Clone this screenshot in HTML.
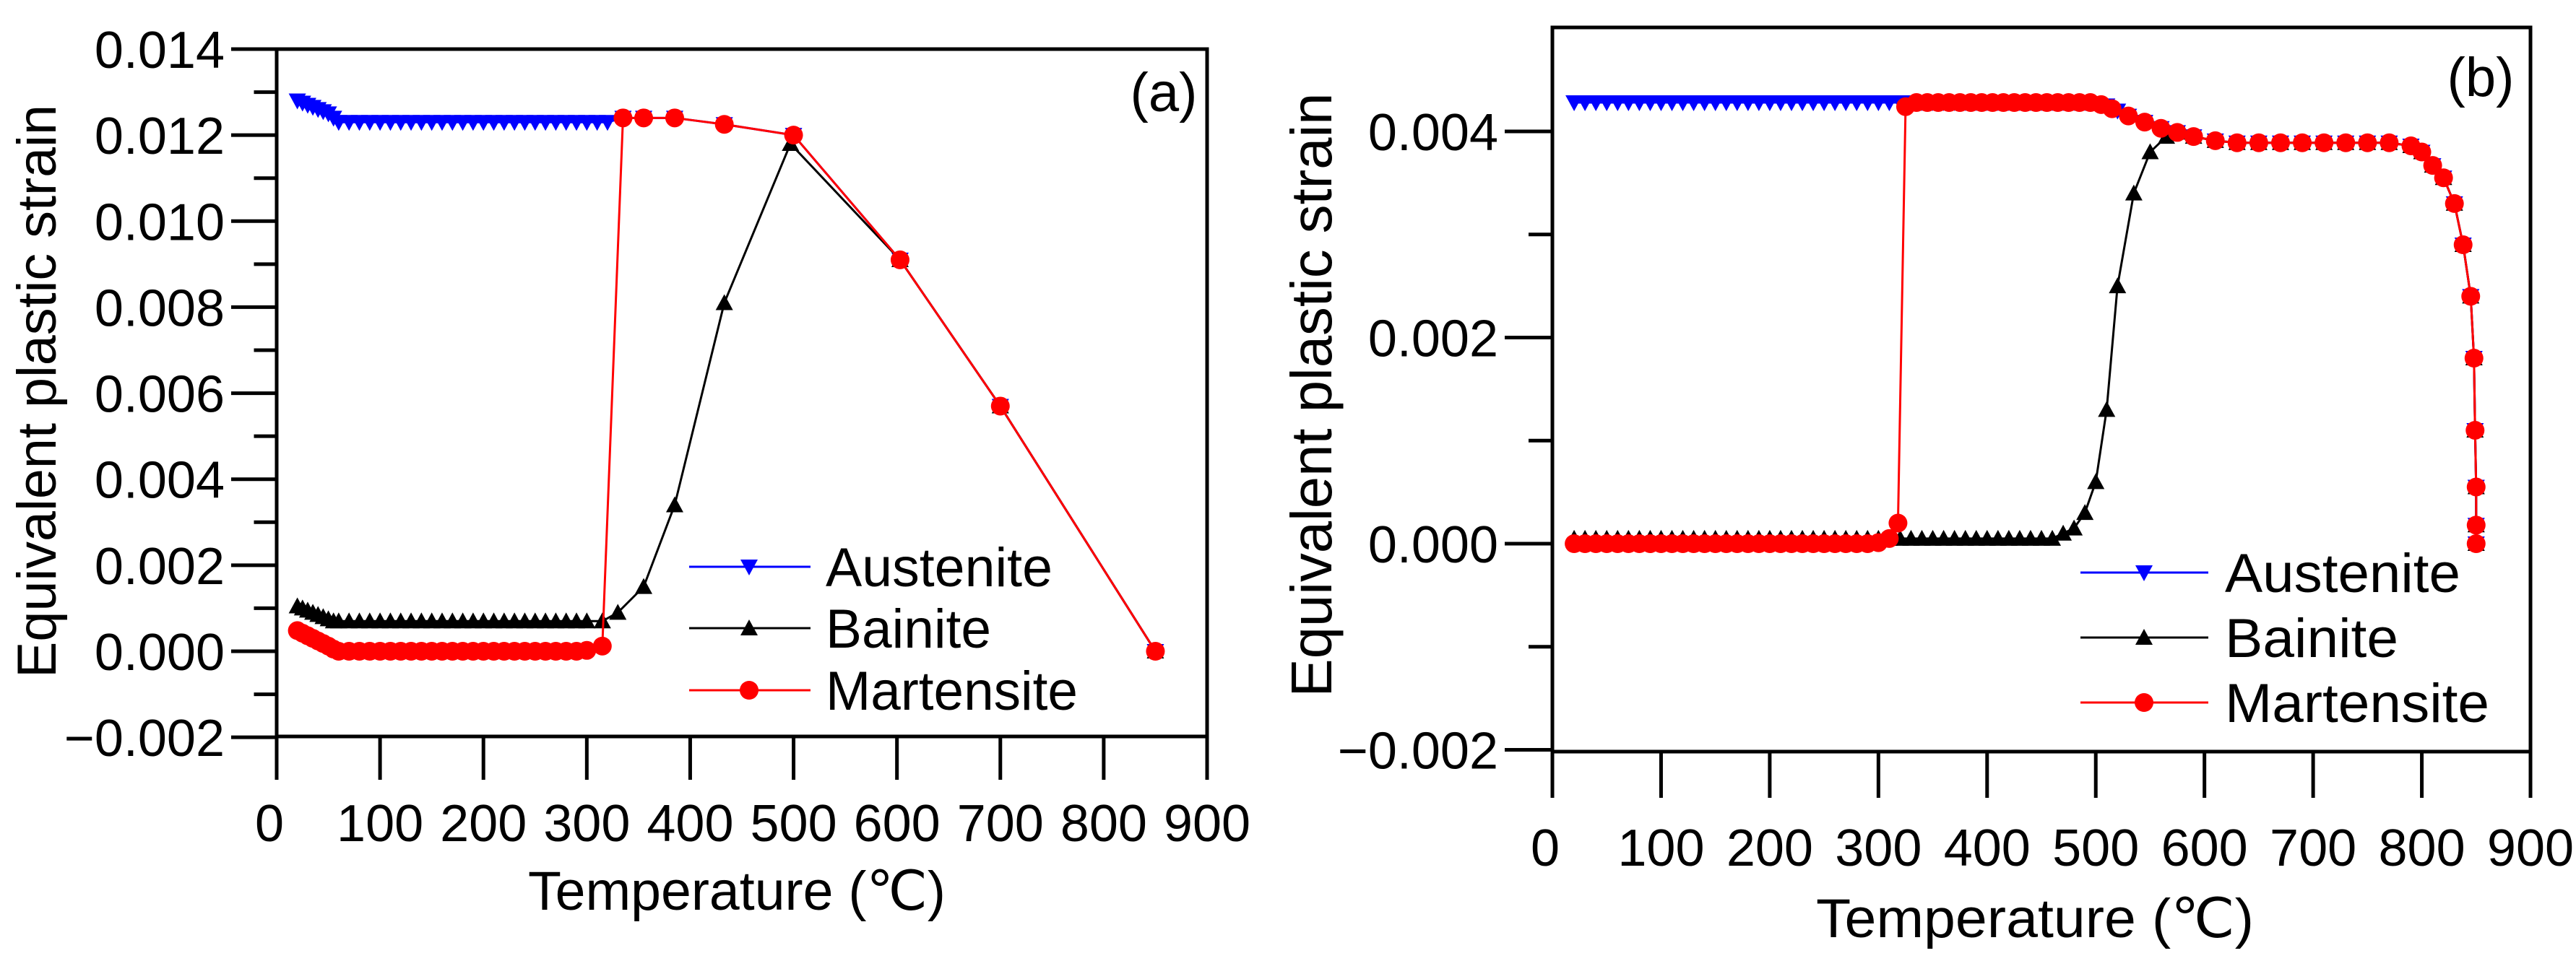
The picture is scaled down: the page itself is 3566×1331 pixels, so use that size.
<!DOCTYPE html>
<html><head><meta charset="utf-8"><style>
html,body{margin:0;padding:0;background:#fff;}
svg{display:block;font-family:"Liberation Sans",sans-serif;}
</style></head><body>
<svg id="chart" width="3566" height="1331" viewBox="0 0 3566 1331" xmlns="http://www.w3.org/2000/svg"></svg>
<script>
// ---- Panel (a) data ----
const aAusT = [20,25,30,35,40,45,50,55,60,70,80,90,100,110,120,130,140,150,160,170,180,190,200,210,220,230,240,250,260,270,280,290,300,310,320,335,355,385,433,500,603,700,850];
const aAusV = [0.0128,0.01275,0.0127,0.01265,0.0126,0.01255,0.0125,0.0124,0.0123,0.0123,0.0123,0.0123,0.0123,0.0123,0.0123,0.0123,0.0123,0.0123,0.0123,0.0123,0.0123,0.0123,0.0123,0.0123,0.0123,0.0123,0.0123,0.0123,0.0123,0.0123,0.0123,0.0123,0.0123,0.0123,0.0123,0.0124,0.0124,0.0124,0.01225,0.0120,0.0091,0.0057,0.0];
const aBaiT = [20,25,30,35,40,45,50,55,60,70,80,90,100,110,120,130,140,150,160,170,180,190,200,210,220,230,240,250,260,270,280,290,300,315,330,355,385,433,497,603,700,850];
const aBaiV = [0.00105,0.001,0.00095,0.0009,0.00085,0.0008,0.00075,0.0007,0.0007,0.0007,0.0007,0.0007,0.0007,0.0007,0.0007,0.0007,0.0007,0.0007,0.0007,0.0007,0.0007,0.0007,0.0007,0.0007,0.0007,0.0007,0.0007,0.0007,0.0007,0.0007,0.0007,0.0007,0.0007,0.0007,0.0009,0.0015,0.0034,0.0081,0.0118,0.0091,0.0057,0.0];
const aMarT = [20,25,30,35,40,45,50,55,60,70,80,90,100,110,120,130,140,150,160,170,180,190,200,210,220,230,240,250,260,270,280,290,300,315,335,355,385,433,500,603,700,850];
const aMarV = [0.00048,0.00042,0.00036,0.0003,0.00024,0.00018,0.00012,0.00005,0.0,0.0,0.0,0.0,0.0,0.0,0.0,0.0,0.0,0.0,0.0,0.0,0.0,0.0,0.0,0.0,0.0,0.0,0.0,0.0,0.0,0.0,0.0,0.0,0.00002,0.00012,0.0124,0.0124,0.0124,0.01225,0.0120,0.0091,0.0057,0.0];
const aYTicks = [-0.002,0.000,0.002,0.004,0.006,0.008,0.010,0.012,0.014];
const aYLabels = ["\u22120.002","0.000","0.002","0.004","0.006","0.008","0.010","0.012","0.014"];
const xTicks = [0,100,200,300,400,500,600,700,800,900];
const xLabels = ["0","100","200","300","400","500","600","700","800","900"];

// ---- Panel (b) data ----
const bAusT = [20,30,40,50,60,70,80,90,100,110,120,130,140,150,160,170,180,190,200,210,220,230,240,250,260,270,280,290,300,310,320,330,340,350,360,370,380,390,400,410,420,430,440,450,460,470,480,490,500,510,520,530,545,560,575,590,610,630,650,670,690,710,730,750,770,790,800,810,820,830,838,845,848,849,850,850,850];
const bAusV = [0.00428,0.00428,0.00428,0.00428,0.00428,0.00428,0.00428,0.00428,0.00428,0.00428,0.00428,0.00428,0.00428,0.00428,0.00428,0.00428,0.00428,0.00428,0.00428,0.00428,0.00428,0.00428,0.00428,0.00428,0.00428,0.00428,0.00428,0.00428,0.00428,0.00428,0.00428,0.00428,0.00428,0.00428,0.00428,0.00428,0.00428,0.00428,0.00428,0.00428,0.00428,0.00428,0.00428,0.00428,0.00428,0.00428,0.00428,0.00428,0.00427,0.00425,0.0042,0.00415,0.00409,0.00403,0.00399,0.00395,0.00391,0.00389,0.00389,0.00389,0.00389,0.00389,0.00389,0.00389,0.00389,0.00386,0.0038,0.00367,0.00355,0.0033,0.0029,0.0024,0.0018,0.0011,0.00055,0.00018,0.0];
const bBaiT = [20,30,40,50,60,70,80,90,100,110,120,130,140,150,160,170,180,190,200,210,220,230,240,250,260,270,280,290,300,310,320,330,340,350,360,370,380,390,400,410,420,430,440,450,460,470,480,490,500,510,520,535,550,565,575,590,610,630,650,670,690,710,730,750,770,790,800,810,820,830,838,845,848,849,850,850,850];
const bBaiV = [0.00005,0.00005,0.00005,0.00005,0.00005,0.00005,0.00005,0.00005,0.00005,0.00005,0.00005,0.00005,0.00005,0.00005,0.00005,0.00005,0.00005,0.00005,0.00005,0.00005,0.00005,0.00005,0.00005,0.00005,0.00005,0.00005,0.00005,0.00005,0.00005,0.00005,0.00005,0.00005,0.00005,0.00005,0.00005,0.00005,0.00005,0.00005,0.00005,0.00005,0.00005,0.00005,0.00005,0.00005,0.00005,0.0001,0.00015,0.0003,0.0006,0.0013,0.0025,0.0034,0.0038,0.00395,0.00399,0.00395,0.00391,0.00389,0.00389,0.00389,0.00389,0.00389,0.00389,0.00389,0.00389,0.00386,0.0038,0.00367,0.00355,0.0033,0.0029,0.0024,0.0018,0.0011,0.00055,0.00018,0.0];
const bMarT = [20,30,40,50,60,70,80,90,100,110,120,130,140,150,160,170,180,190,200,210,220,230,240,250,260,270,280,290,300,310,318,325,335,345,355,365,375,385,395,405,415,425,435,445,455,465,475,485,495,505,515,530,545,560,575,590,610,630,650,670,690,710,730,750,770,790,800,810,820,830,838,845,848,849,850,850,850];
const bMarV = [0.0,0.0,0.0,0.0,0.0,0.0,0.0,0.0,0.0,0.0,0.0,0.0,0.0,0.0,0.0,0.0,0.0,0.0,0.0,0.0,0.0,0.0,0.0,0.0,0.0,0.0,0.0,0.0,0.00001,0.00005,0.0002,0.00424,0.00428,0.00428,0.00428,0.00428,0.00428,0.00428,0.00428,0.00428,0.00428,0.00428,0.00428,0.00428,0.00428,0.00428,0.00428,0.00428,0.00428,0.00426,0.00422,0.00415,0.00409,0.00403,0.00399,0.00395,0.00391,0.00389,0.00389,0.00389,0.00389,0.00389,0.00389,0.00389,0.00389,0.00386,0.0038,0.00367,0.00355,0.0033,0.0029,0.0024,0.0018,0.0011,0.00055,0.00018,0.0];
const bYTicks = [-0.002,0.000,0.002,0.004];
const bYLabels = ["\u22120.002","0.000","0.002","0.004"];
const bYMinor = [-0.001,0.001,0.003];
const aYMinor = [-0.001,0.001,0.003,0.005,0.007,0.009,0.011,0.013];

const NS = "http://www.w3.org/2000/svg";
const svg = document.getElementById('chart');
function mk(tag, attrs, parent){const e=document.createElementNS(NS,tag);for(const k in attrs)e.setAttribute(k,attrs[k]);(parent||svg).appendChild(e);return e;}
function markerShape(g, kind, x, y, color){
  let e;
  if(kind==='down'){e=mk('polygon',{points:`${x-12},${y-10} ${x+12},${y-10} ${x},${y+12}`,fill:color},g);}
  else if(kind==='up'){e=mk('polygon',{points:`${x-12},${y+10} ${x+12},${y+10} ${x},${y-12}`,fill:color},g);}
  else {e=mk('circle',{cx:x,cy:y,r:13,fill:color},g);}
  return e;
}

function panel(cfg){
  const P = mk('g',{});
  
  
  const xs = v => cfg.x0 + (v-0)/(900-0)*(cfg.x1-cfg.x0);
  const ys = v => cfg.yZero + (v)/(cfg.yRefV)*(cfg.yRef-cfg.yZero);
  // frame
  const fr = mk('rect',{x:cfg.x0,y:cfg.top,width:cfg.x1-cfg.x0,height:cfg.bottom-cfg.top,fill:'none',stroke:'#000','stroke-width':5},P);
  
  
  // y ticks
  cfg.yTicks.forEach((v,i)=>{
    const y=ys(v);
    mk('line',{x1:cfg.x0-cfg.ytl,x2:cfg.x0,y1:y,y2:y,stroke:'#000','stroke-width':5},P);
    const t=mk('text',{x:cfg.yLabX,y:y+26,'text-anchor':'end','font-size':72},P);
    t.textContent=cfg.yLabels[i];
    
    
  });
  cfg.yMinor.forEach(v=>{const y=ys(v);mk('line',{x1:cfg.x0-cfg.ytl/2,x2:cfg.x0,y1:y,y2:y,stroke:'#000','stroke-width':5},P);});
  xTicks.forEach((v,i)=>{
    const x=xs(v);
    mk('line',{x1:x,x2:x,y1:cfg.bottom,y2:cfg.bottom+cfg.xtl,stroke:'#000','stroke-width':5},P);
    const t=mk('text',{x:(i===0?x-10:x),y:cfg.xLabY+26,'text-anchor':'middle','font-size':72},P);
    t.textContent=xLabels[i];
    
    
  });
  // titles
  const xt=mk('text',{x:cfg.xTitleX,y:cfg.xTitleY+27,'text-anchor':'middle','font-size':76,textLength:cfg.xTitleW,lengthAdjust:'spacingAndGlyphs'},P);
  xt.textContent='Temperature (\u2103)';
  
  
  const yt=mk('text',{x:0,y:0,'text-anchor':'middle','font-size':cfg.yTitleFs,textLength:cfg.yTitleW,lengthAdjust:'spacingAndGlyphs',transform:`translate(${cfg.yTitleX+26},${cfg.yTitleY}) rotate(-90)`},P);
  yt.textContent='Equivalent plastic strain';
  
  
  const pl=mk('text',{x:cfg.plX,y:cfg.plY+26,'text-anchor':'middle','font-size':76},P);
  pl.textContent=cfg.panelLabel;
  
  
  // series
  cfg.series.forEach(s=>{
    const g=mk('g',{},P);
    
    
    const pts=s.t.map((t,i)=>`${xs(t)},${ys(s.v[i])}`).join(' ');
    mk('polyline',{points:pts,fill:'none',stroke:s.color,'stroke-width':3},g);
    s.t.forEach((t,i)=>{const m=markerShape(g,s.kind,xs(t),ys(s.v[i]),s.color);
      
      });
  });
  // legend
  const L=mk('g',{},P);
  
  
  cfg.series.forEach((s,i)=>{
    const eg=mk('g',{},L);
    
    
    const y=cfg.legY[i];
    mk('line',{x1:cfg.legX0,x2:cfg.legX1,y1:y,y2:y,stroke:s.color,'stroke-width':3},eg);
    markerShape(eg,s.kind,cfg.legM,y,s.color);
    const t=mk('text',{x:cfg.legTX,y:y+27,'font-size':76,textLength:cfg.legW[i],lengthAdjust:'spacingAndGlyphs'},eg);
    t.textContent=s.label;
  });
}

panel({name:'panel-a',x0:383,x1:1671,top:68,bottom:1020,yZero:902,yRef:68,yRefV:0.014,ytl:63,xtl:60,
  yTicks:aYTicks,yLabels:aYLabels,yMinor:aYMinor,yLabX:311,xLabY:1139,
  xTitleX:1020,xTitleY:1233,xTitleW:578,yTitleX:51,yTitleY:542,yTitleW:794,yTitleFs:76,
  plX:1611,plY:128,panelLabel:'(a)',
  legX0:954,legX1:1122,legM:1037,legTX:1143,legY:[785,870,956],legW:[314,229,349],
  series:[
    {name:'austenite-series',label:'Austenite',t:aAusT,v:aAusV,color:'#0000ff',kind:'down'},
    {name:'bainite-series',label:'Bainite',t:aBaiT,v:aBaiV,color:'#000000',kind:'up'},
    {name:'martensite-series',label:'Martensite',t:aMarT,v:aMarV,color:'#ff0000',kind:'circle'}
  ]});
panel({name:'panel-b',x0:2149,x1:3503,top:38,bottom:1041,yZero:753,yRef:182,yRefV:0.004,ytl:66,xtl:64,
  yTicks:bYTicks,yLabels:bYLabels,yMinor:bYMinor,yLabX:2074,xLabY:1173,
  xTitleX:2817,xTitleY:1271,xTitleW:606,yTitleX:1817,yTitleY:547,yTitleW:837,yTitleFs:80,
  plX:3434,plY:107,panelLabel:'(b)',
  legX0:2880,legX1:3057,legM:2968,legTX:3080,legY:[793,883,973],legW:[326,240,366],
  series:[
    {name:'austenite-series',label:'Austenite',t:bAusT,v:bAusV,color:'#0000ff',kind:'down'},
    {name:'bainite-series',label:'Bainite',t:bBaiT,v:bBaiV,color:'#000000',kind:'up'},
    {name:'martensite-series',label:'Martensite',t:bMarT,v:bMarV,color:'#ff0000',kind:'circle'}
  ]});
</script>
</body></html>
